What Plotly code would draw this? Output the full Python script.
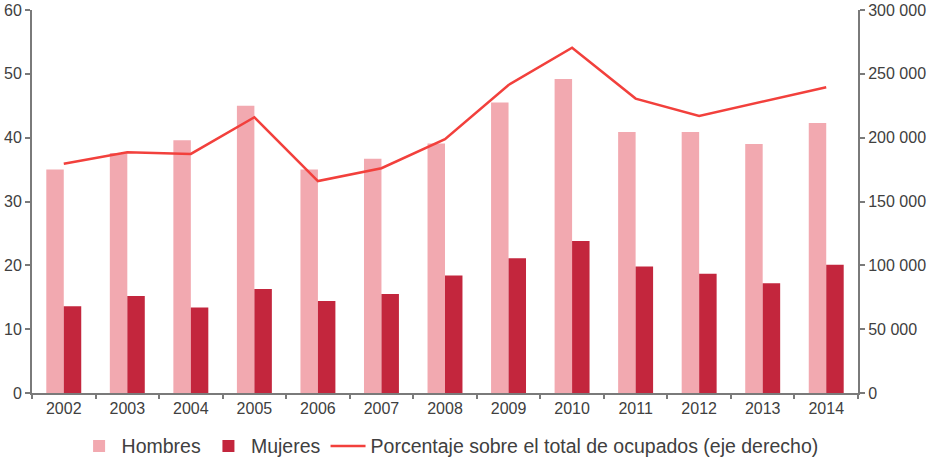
import plotly.graph_objects as go

years = ["2002", "2003", "2004", "2005", "2006", "2007", "2008", "2009", "2010", "2011", "2012", "2013", "2014"]
hombres = [35.0, 37.6, 39.6, 45.0, 35.0, 36.7, 39.1, 45.5, 49.2, 40.9, 40.9, 39.0, 42.3]
mujeres = [13.6, 15.2, 13.4, 16.3, 14.4, 15.5, 18.4, 21.1, 23.8, 19.8, 18.7, 17.2, 20.1]
porcentaje = [179500, 188600, 187300, 216000, 166000, 176100, 198800, 241300, 270500, 230600, 217000, 228200, 239500]

FONT = "Liberation Sans, Arial, sans-serif"
TXT = "#404040"
AX = "#7a7a7a"

fig = go.Figure()
fig.add_trace(go.Bar(x=years, y=hombres, name="Hombres", marker=dict(color="#F2A9B0", line=dict(width=0))))
fig.add_trace(go.Bar(x=years, y=mujeres, name="Mujeres", marker=dict(color="#C3263D", line=dict(width=0))))
fig.add_trace(go.Scatter(x=years, y=porcentaje, name="Porcentaje sobre el total de ocupados (eje derecho)",
                         mode="lines", line=dict(color="#F2403C", width=2.5), yaxis="y2"))

fig.update_layout(
    width=928, height=460,
    margin=dict(l=32, r=70, t=10, b=67, autoexpand=False),
    paper_bgcolor="white", plot_bgcolor="white",
    barmode="group", bargap=0.45, bargroupgap=0,
    font=dict(family=FONT, size=16, color=TXT),
    showlegend=True,
    legend=dict(orientation="h", xref="container", yref="container", x=0.485, xanchor="center",
                y=0.03, yanchor="middle", entrywidth=0,
                font=dict(size=19.5, color=TXT), traceorder="normal", itemwidth=35),
    xaxis=dict(type="category", showline=True, linecolor=AX, linewidth=2, ticks="outside",
               tickson="boundaries", ticklen=4, tickcolor=AX, tickwidth=2, showgrid=False,
               automargin=False, tickfont=dict(size=16, color=TXT)),
    yaxis=dict(range=[0, 60], dtick=10, showline=True, linecolor=AX, linewidth=2, ticks="outside",
               ticklen=5, tickcolor=AX, tickwidth=2, showgrid=False, zeroline=False,
               automargin=False, tickfont=dict(size=16, color=TXT)),
    yaxis2=dict(range=[0, 300000], dtick=50000, overlaying="y", side="right", showline=True,
                linecolor=AX, linewidth=2, ticks="outside", ticklen=5, tickcolor=AX, tickwidth=2,
                showgrid=False, zeroline=False, automargin=False, tickformat=",d",
                tickfont=dict(size=16, color=TXT)),
    separators=", ",
)

fig.write_html("out.html")
